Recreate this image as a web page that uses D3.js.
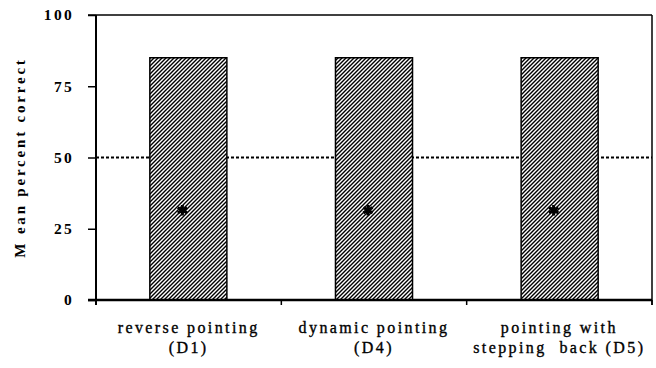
<!DOCTYPE html>
<html><head><meta charset="utf-8">
<script src="https://cdn.jsdelivr.net/npm/d3@7"></script>
<style>body{margin:0;background:#fff}svg{display:block}</style>
</head><body>
<script>
const categories = ["reverse pointing|(D1)", "dynamic pointing|(D4)", "pointing with|stepping  back (D5)"];
const values = [85, 85, 85];
const starValues = [31.5, 31.5, 31.5];
const chanceLevel = 50;
const yTicks = [0, 25, 50, 75, 100];
const yTitle = "M ean percent correct";

const W = 656, H = 368;
const m = {left: 96, right: 4, top: 15, bottom: 68};
const svg = d3.select("body").append("svg").attr("width", W).attr("height", H);

const x = d3.scaleBand().domain(categories).range([m.left, W - m.right]).paddingInner(0.585).paddingOuter(0.29);
const xb = d3.scaleBand().domain(categories).range([m.left, W - m.right]);
const y = d3.scaleLinear().domain([0, 100]).range([H - m.bottom, m.top]);

const defs = svg.append("defs");
const pat = defs.append("pattern").attr("id", "hatch").attr("patternUnits", "userSpaceOnUse")
  .attr("width", 4).attr("height", 4);
pat.append("rect").attr("width", 4).attr("height", 4).attr("fill", "#fff");
pat.append("path").attr("d", "M-1,1 l2,-2 M0,4 l4,-4 M3,5 l2,-2")
  .attr("stroke", "#000").attr("stroke-width", 1.4);

// box top and right
svg.append("line").attr("x1", m.left - 8).attr("x2", W - m.right).attr("y1", y(100)).attr("y2", y(100))
  .attr("stroke", "#000").attr("stroke-width", 1.5);
svg.append("line").attr("x1", W - m.right).attr("x2", W - m.right).attr("y1", y(100)).attr("y2", y(0) + 5)
  .attr("stroke", "#000").attr("stroke-width", 1.5);

// chance line
svg.append("line").attr("x1", m.left).attr("x2", W - m.right).attr("y1", y(chanceLevel)).attr("y2", y(chanceLevel))
  .attr("stroke", "#000").attr("stroke-width", 2).attr("stroke-dasharray", "3,2");

// bars
svg.selectAll("rect.bar").data(values).join("rect").attr("class", "bar")
  .attr("x", (d, i) => x(categories[i])).attr("width", x.bandwidth())
  .attr("y", d => y(d)).attr("height", d => y(0) - y(d))
  .attr("fill", "url(#hatch)").attr("stroke", "#000").attr("stroke-width", 1.5);

// stars
svg.selectAll("path.star").data(starValues).join("path").attr("class", "star")
  .attr("transform", (d, i) => `translate(${x(categories[i]) + x.bandwidth() / 2 - 6},${y(d)})`)
  .attr("d", d3.symbol(d3.symbolAsterisk, 80))
  .attr("stroke", "#000").attr("stroke-width", 3).attr("fill", "none");

// y axis
const ya = svg.append("g").attr("transform", `translate(${m.left},0)`)
  .call(d3.axisLeft(y).tickValues(yTicks).tickSize(8).tickPadding(14));
ya.select(".domain").attr("d", `M0,${y(100)}V${y(0) + 5}`).attr("stroke-width", 2);
ya.selectAll(".tick line").attr("stroke-width", 1.5);
ya.selectAll(".tick text").attr("font-family", "Liberation Serif").attr("font-size", 15.5)
  .attr("font-weight", "bold").attr("letter-spacing", 2.3).attr("fill", "#000");

// x axis
const xa = svg.append("g").attr("transform", `translate(0,${y(0)})`);
xa.append("line").attr("x1", m.left - 8).attr("x2", W - m.right).attr("stroke", "#000").attr("stroke-width", 2.5);
const bounds = categories.map(c => xb(c)).concat([W - m.right]);
xa.selectAll("line.tk").data(bounds).join("line").attr("class", "tk")
  .attr("x1", d => d).attr("x2", d => d).attr("y1", 0).attr("y2", 5).attr("stroke", "#000").attr("stroke-width", 1.5);
categories.forEach(c => {
  const lines = c.split("|");
  const t = xa.append("text").attr("x", xb(c) + xb.bandwidth() / 2).attr("text-anchor", "middle")
    .attr("font-family", "Liberation Serif").attr("font-size", 16).attr("letter-spacing", 2.4)
    .attr("font-weight", "normal").attr("stroke", "#000").attr("stroke-width", 0.35)
    .attr("fill", "#000").attr("xml:space", "preserve").style("white-space", "pre");
  lines.forEach((l, i) => t.append("tspan").attr("x", xb(c) + xb.bandwidth() / 2).attr("y", 33 + i * 20).text(l));
});

// y title
svg.append("text").attr("transform", `translate(25,${(y(0) + y(100)) / 2}) rotate(-90)`)
  .attr("text-anchor", "middle").attr("font-family", "Liberation Serif").attr("font-size", 15)
  .attr("font-weight", "bold").attr("letter-spacing", 2.8).attr("fill", "#000").text(yTitle);
</script>
</body></html>
